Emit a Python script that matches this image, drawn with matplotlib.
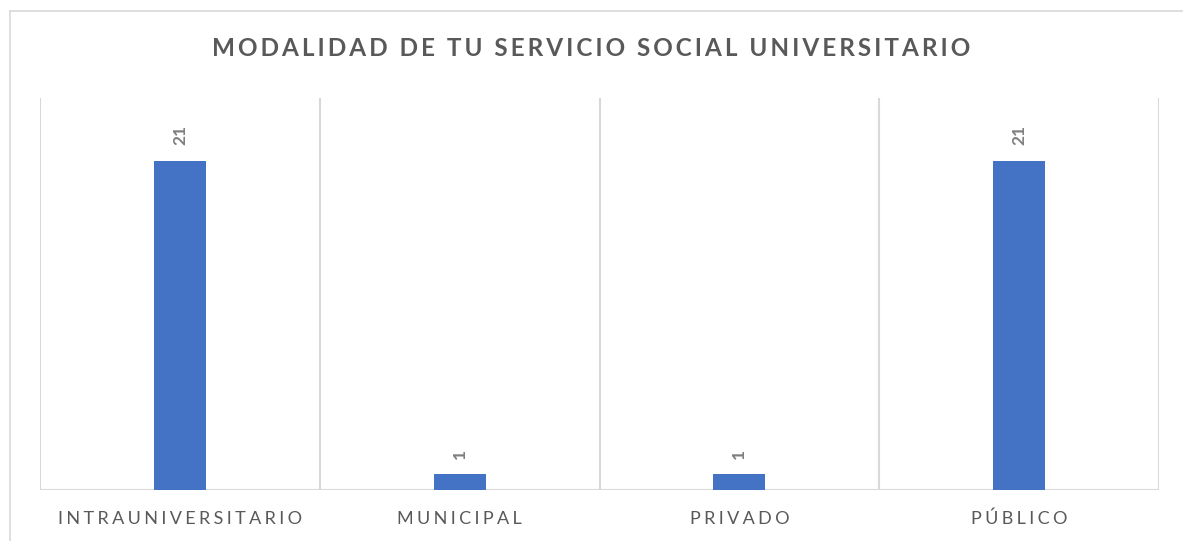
import matplotlib
matplotlib.use("Agg")
import matplotlib.pyplot as plt
from matplotlib.lines import Line2D
import numpy as np

# ── Data ───────────────────────────────────────────────────────────────────
CATEGORIES = ["INTRAUNIVERSITARIO", "MUNICIPAL", "PRIVADO", "PÚBLICO"]
VALUES = [21, 1, 1, 21]
TITLE = "MODALIDAD DE TU SERVICIO SOCIAL UNIVERSITARIO"

BAR_COLOR = "#4472C4"
GRID_COLOR = "#D9D9D9"
TEXT_COLOR = "#595959"
FONT = ["Lato", "DejaVu Sans"]

W, H = 1183, 541


def spaced(s, gap="\u2009"):
    """Poor man's letter spacing: thin spaces between characters."""
    return gap.join(s)


fig = plt.figure(figsize=(W / 100, H / 100), dpi=100)

# plot area in pixel coords: x 40..1159, y 98..490
ax = fig.add_axes([40 / W, 1 - 490 / H, (1159 - 40) / W, (490 - 98) / H])

x = np.arange(len(CATEGORIES))
ax.bar(x, VALUES, width=0.186, color=BAR_COLOR, zorder=3)

ax.set_xlim(-0.5, len(CATEGORIES) - 0.5)
ax.set_ylim(0, 25)

# vertical separators between categories
for b in np.arange(-0.5, len(CATEGORIES), 1.0):
    ax.axvline(b, color=GRID_COLOR, lw=1.5, zorder=1)
ax.axhline(0, color=GRID_COLOR, lw=1.5, zorder=2)

for s in ax.spines.values():
    s.set_visible(False)
ax.set_yticks([])
ax.set_xticks(x)
ax.set_xticklabels([spaced(c, "\u2009\u200a") for c in CATEGORIES], family=FONT,
                   fontsize=13, color=TEXT_COLOR)
ax.tick_params(axis="x", length=0, pad=15)

# data labels
for xi, v in zip(x, VALUES):
    ax.annotate(str(v), (xi, v), xytext=(0, 11), textcoords="offset points",
                rotation=90, ha="center", va="bottom", fontsize=12.5,
                fontweight="bold", color="#7F7F7F", family=FONT)

fig.text(0.5, 1 - 48 / H, spaced(TITLE), ha="center", va="center",
         fontsize=17.5, fontweight="bold", color=TEXT_COLOR, family=FONT)

# chart border (only left and top edges fall inside the image)
fig.add_artist(Line2D([10 / W, 10 / W], [0, 1 - 11 / H],
                      transform=fig.transFigure, color=GRID_COLOR, lw=1.2))
fig.add_artist(Line2D([10 / W, 1], [1 - 11 / H, 1 - 11 / H],
                      transform=fig.transFigure, color=GRID_COLOR, lw=1.2))

fig.savefig("out.png", dpi=100)
